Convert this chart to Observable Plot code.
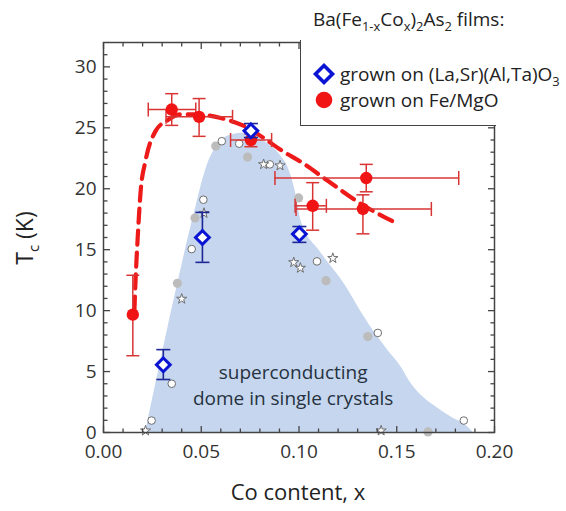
<!DOCTYPE html>
<html><head><meta charset="utf-8">
<script src="https://cdn.jsdelivr.net/npm/d3@7"></script>
<script src="https://cdn.jsdelivr.net/npm/@observablehq/plot@0.6"></script>
<style>
body{margin:0;background:#fff;font-family:"Open Sans",sans-serif;color:#222;}
#wrap{position:relative;width:566px;height:511px;overflow:hidden;}
#legbox{position:absolute;left:300px;top:40px;width:195px;height:85px;background:#fff;border-left:1.5px solid #444;border-bottom:1.5px solid #444;}
.lt{position:absolute;white-space:nowrap;font-size:19px;line-height:26px;color:#222;}
sub.s{font-size:0.68em;line-height:0;vertical-align:-0.35em;}
#title{left:313px;top:6px;}
.row{position:absolute;left:312px;height:26px;display:flex;align-items:center;white-space:nowrap;font-size:19px;color:#222;}
.row svg{width:24px;height:26px;margin-right:4px;flex:none;}
#ylab{position:absolute;left:24px;top:238px;transform:translate(-50%,-50%) rotate(-90deg);white-space:nowrap;font-size:23px;line-height:1;color:#222;}
#ylab sub{font-size:0.65em;line-height:0;vertical-align:-0.45em;}
#xlab{position:absolute;left:298px;top:480px;transform:translateX(-50%);white-space:nowrap;font-size:22px;line-height:1;color:#222;}
</style></head><body>
<div id="wrap"></div>
<script>
// ---- data ----
const lsatX  = [0.0306, 0.0506, 0.0754, 0.1002];
const lsatTc = [5.55, 16.0, 24.75, 16.28];
const lsatLo = [4.35, 13.96, 24.2, 15.6];
const lsatHi = [6.8, 18.06, 25.35, 16.9];

const mgoX    = [0.015, 0.0349, 0.0489, 0.0754, 0.107, 0.1344, 0.1327];
const mgoTc   = [9.67, 26.5, 25.9, 24.0, 18.6, 20.88, 18.34];
const mgoTcLo = [6.3, 25.2, 24.3, 23.45, 16.6, 19.75, 16.3];
const mgoTcHi = [12.9, 27.8, 27.4, 24.5, 20.5, 22.0, 19.5];
const mgoXLo  = [0.015, 0.0229, 0.032, 0.065, 0.098, 0.0877, 0.0985];
const mgoXHi  = [0.015, 0.0472, 0.066, 0.086, 0.114, 0.1817, 0.1677];

const fitX  = [0.0158, 0.0164, 0.0175, 0.019, 0.0215, 0.0267, 0.0326, 0.0395, 0.048, 0.06, 0.0737, 0.0788, 0.0925, 0.101, 0.1147, 0.1318, 0.149];
const fitTc = [10.0, 12.5, 16.0, 19.8, 22.3, 24.75, 25.6, 26.1, 26.1, 25.8, 25.0, 24.5, 23.0, 22.2, 20.65, 18.75, 17.24];

const domeX  = [0.0215, 0.0395, 0.0463, 0.0532, 0.0583, 0.065, 0.075, 0.0822, 0.0899, 0.095, 0.0976, 0.0993, 0.101, 0.111, 0.1232, 0.1335, 0.1386, 0.1455, 0.1523, 0.1574, 0.1617, 0.1703, 0.178, 0.1865, 0.189];
const domeTc = [0, 13.3, 17.9, 22.0, 23.6, 24.4, 24.6, 23.9, 22.85, 21.5, 20.1, 18.8, 17.4, 14.8, 12.19, 9.45, 8.22, 6.72, 5.35, 3.99, 3.17, 2.07, 1.25, 0.43, 0];

const grayX  = [0.0378, 0.0468, 0.0574, 0.0737, 0.0998, 0.1138, 0.1352, 0.166];
const grayTc = [12.24, 17.6, 23.5, 22.6, 19.25, 12.46, 7.87, 0.05];
const openX  = [0.0246, 0.0349, 0.0451, 0.0511, 0.0605, 0.0694, 0.0851, 0.1092, 0.1403, 0.1843];
const openTc = [0.98, 4.0, 15.05, 19.1, 23.9, 23.7, 22.0, 14.04, 8.17, 0.98];
const starX  = [0.0215, 0.04, 0.0514, 0.0819, 0.0903, 0.0973, 0.1007, 0.1173, 0.142];
const starTc = [0.15, 10.96, 18.0, 22.0, 21.9, 13.96, 13.5, 14.3, 0.15];

const domeLabel = ["superconducting\ndome in single crystals"];
const domeLabelX = [0.097];
const domeLabelTc = [4.0];

const xMajor = [0, 0.05, 0.1, 0.15, 0.2];
const xTickLabels = ["0.00", "0.05", "0.10", "0.15", "0.20"];
const xMinor = [0.01, 0.02, 0.03, 0.04, 0.06, 0.07, 0.08, 0.09, 0.11, 0.12, 0.13, 0.14, 0.16, 0.17, 0.18, 0.19];
const yMajor = [0, 5, 10, 15, 20, 25, 30];
const yTickLabels = ["0", "5", "10", "15", "20", "25", "30"];
const yMinor = [1,2,3,4,6,7,8,9,11,12,13,14,16,17,18,19,21,22,23,24,26,27,28,29,31];

// ---- tables ----
const lsat = lsatX.map((x, i) => ({x, tc: lsatTc[i], lo: lsatLo[i], hi: lsatHi[i]}));
const mgo = mgoX.map((x, i) => ({x, tc: mgoTc[i], lo: mgoTcLo[i], hi: mgoTcHi[i], xlo: mgoXLo[i], xhi: mgoXHi[i]}));
const mgoXe = mgo.filter(d => d.xhi > d.xlo);
const fit = fitX.map((x, i) => ({x, tc: fitTc[i]}));
const dome = domeX.map((x, i) => ({x, tc: domeTc[i]}));
const gray = grayX.map((x, i) => ({x, tc: grayTc[i]}));
const open = openX.map((x, i) => ({x, tc: openTc[i]}));
const stars = starX.map((x, i) => ({x, tc: starTc[i]}));
const labelData = domeLabel.map((t, i) => ({x: domeLabelX[i], tc: domeLabelTc[i], t}));
const xLab = new Map(xMajor.map((v, i) => [v, xTickLabels[i]]));
const yLab = new Map(yMajor.map((v, i) => [v, yTickLabels[i]]));

// ---- custom symbols (line segments) ----
const seg = (dx0, dy0, dx1, dy1) => ({draw(c, s) { const l = Math.sqrt(s / Math.PI); c.moveTo(dx0 * l, dy0 * l); c.lineTo(dx1 * l, dy1 * l); }});
const tickUp = seg(0, 0, 0, -1), tickDown = seg(0, 0, 0, 1), tickRight = seg(0, 0, 1, 0), tickLeft = seg(0, 0, -1, 0);
const capH = seg(-1, 0, 1, 0), capV = seg(0, -1, 0, 1);

const axisC = "#444";
const redBar = "#d83434", blueBar = "#1c2696";
const tk = (data, ch, anchor, symbol, r) => Plot.dot(data, {[ch]: d => d, frameAnchor: anchor, symbol, r, stroke: axisC, strokeWidth: 1.3, fill: "none"});

const chart = Plot.plot({
  width: 566, height: 511,
  marginLeft: 103, marginRight: 72, marginTop: 42, marginBottom: 79,
  style: {fontFamily: "'Open Sans', sans-serif", fontSize: "19px", color: "#333", background: "transparent"},
  x: {domain: [0, 0.2]},
  y: {domain: [0, 32]},
  marks: [
    Plot.areaY(dome, {x: "x", y: "tc", fill: "#c5d6ee", curve: "monotone-x"}),
    Plot.dot(gray, {x: "x", y: "tc", r: 4.6, fill: "#bcbcbc"}),
    Plot.dot(open, {x: "x", y: "tc", r: 3.8, fill: "white", stroke: "#6e6e6e", strokeWidth: 1}),
    Plot.dot(stars, {x: "x", y: "tc", symbol: "star", r: 3.2, fill: "white", stroke: "#6e6e6e", strokeWidth: 1}),
    Plot.text(labelData, {x: "x", y: "tc", text: "t", fontSize: 19, fill: "#26323f", lineHeight: 1.38}),
    Plot.line(fit, {x: "x", y: "tc", stroke: "#ee1a1a", strokeWidth: 4.2, strokeDasharray: "14,8", curve: "monotone-x"}),
    Plot.ruleX(mgo, {x: "x", y1: "lo", y2: "hi", stroke: redBar, strokeWidth: 1.5}),
    Plot.ruleY(mgoXe, {y: "tc", x1: "xlo", x2: "xhi", stroke: redBar, strokeWidth: 1.5}),
    Plot.dot(mgo, {x: "x", y: "lo", symbol: capH, r: 6.5, stroke: redBar, strokeWidth: 1.5, fill: "none"}),
    Plot.dot(mgo, {x: "x", y: "hi", symbol: capH, r: 6.5, stroke: redBar, strokeWidth: 1.5, fill: "none"}),
    Plot.dot(mgoXe, {x: "xlo", y: "tc", symbol: capV, r: 7, stroke: redBar, strokeWidth: 1.5, fill: "none"}),
    Plot.dot(mgoXe, {x: "xhi", y: "tc", symbol: capV, r: 7, stroke: redBar, strokeWidth: 1.5, fill: "none"}),
    Plot.dot(mgo, {x: "x", y: "tc", r: 6.2, fill: "#f01414"}),
    Plot.ruleX(lsat, {x: "x", y1: "lo", y2: "hi", stroke: blueBar, strokeWidth: 1.6}),
    Plot.dot(lsat, {x: "x", y: "lo", symbol: capH, r: 7, stroke: blueBar, strokeWidth: 1.6, fill: "none"}),
    Plot.dot(lsat, {x: "x", y: "hi", symbol: capH, r: 7, stroke: blueBar, strokeWidth: 1.6, fill: "none"}),
    Plot.dot(lsat, {x: "x", y: "tc", symbol: "diamond2", r: 6.2, stroke: "#0a14d2", strokeWidth: 3, fill: "white"}),
    Plot.frame({stroke: axisC, strokeWidth: 1.5}),
    tk(xMajor, "x", "bottom", tickUp, 6.5), tk(xMinor, "x", "bottom", tickUp, 4),
    tk(xMajor, "x", "top", tickDown, 6.5), tk(xMinor, "x", "top", tickDown, 4),
    tk(yMajor, "y", "left", tickRight, 6.5), tk(yMinor, "y", "left", tickRight, 4),
    tk(yMajor, "y", "right", tickLeft, 6.5), tk(yMinor, "y", "right", tickLeft, 4),
    Plot.axisX(xMajor, {anchor: "bottom", tickSize: 0, tickPadding: 12, tickFormat: d => xLab.get(d), label: null}),
    Plot.axisY(yMajor, {anchor: "left", tickSize: 0, tickPadding: 7, tickFormat: d => yLab.get(d), label: null})
  ]
});

const wrap = document.getElementById("wrap");
wrap.appendChild(chart);
wrap.insertAdjacentHTML("beforeend", `
<div id="legbox"></div>
<div class="lt" id="title">Ba(Fe<sub class="s">1-x</sub>Co<sub class="s">x</sub>)<sub class="s">2</sub>As<sub class="s">2</sub> films:</div>
<div class="row" style="top:61px"><svg viewBox="-12 -13 24 26"><path d="M0,-8.5L8.5,0L0,8.5L-8.5,0Z" fill="white" stroke="#0a14d2" stroke-width="3.6"/></svg><span>grown on (La,Sr)(Al,Ta)O<sub class="s">3</sub></span></div>
<div class="row" style="top:87px"><svg viewBox="-12 -13 24 26"><circle r="8.3" fill="#f01414"/></svg><span>grown on Fe/MgO</span></div>
<div id="ylab">T<sub>c</sub> (K)</div>
<div id="xlab">Co content, x</div>
`);
</script>
</body></html>
